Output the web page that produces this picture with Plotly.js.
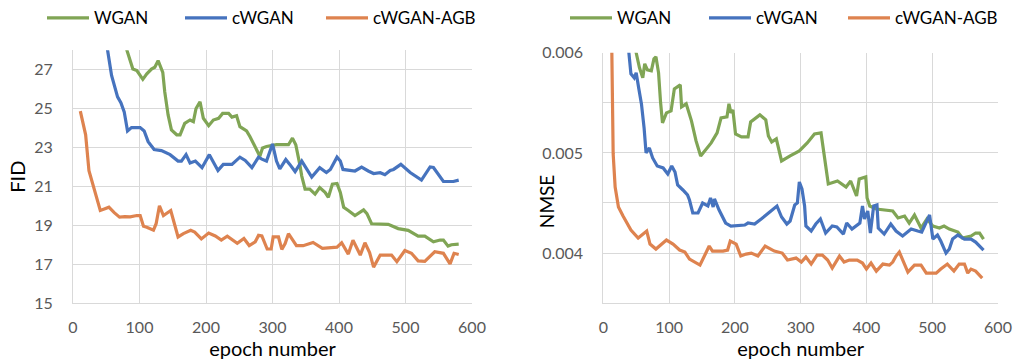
<!DOCTYPE html>
<html>
<head>
<meta charset="utf-8">
<script src="https://cdn.plot.ly/plotly-3.0.1.min.js"></script>
<style>
html,body{margin:0;padding:0;background:#fff;}
#chart{width:1015px;height:360px;}
</style>
</head>
<body>
<div id="chart"></div>
<script>
// ---------- series names ----------
var seriesNames = ['WGAN', 'cWGAN', 'cWGAN-AGB'];

// ---------- FID (left panel) ----------
var fidEpochWGAN = [70,81,90,96,105,111,118,123,128,135,138,143,148,156,161,168,176,181,185,191,196,204,211,219,225,234,239,246,251,261,266,274,281,285,291,306,324,330,335,341,344,349,356,364,371,379,384,390,397,402,407,414,424,437,442,449,462,474,489,504,519,529,542,552,557,564,569,580];
var fidWGAN = [30.5,28.0,27.03,26.95,26.5,26.78,27.03,27.12,27.46,26.86,25.85,24.67,23.9,23.65,23.65,24.24,24.41,24.33,25.0,25.34,24.5,24.12,24.41,24.5,24.75,24.75,24.56,24.63,24.07,23.85,23.56,23.0,22.55,22.97,23.05,23.14,23.14,23.48,23.14,22.13,21.53,20.86,20.86,20.6,20.94,20.69,20.44,21.11,21.15,20.69,19.93,19.76,19.5,19.79,19.6,19.08,19.05,19.05,18.83,18.74,18.44,18.44,18.15,18.24,18.24,17.93,18.0,18.03];

var fidEpochCWGAN = [40,52,58,67,72,77,82,88,101,107,113,122,133,146,158,163,170,176,184,194,205,218,226,239,251,259,269,279,284,291,300,306,311,320,326,334,344,349,359,371,381,387,397,402,406,424,434,444,452,462,469,477,482,493,507,524,537,542,557,572,580];
var fidCWGAN = [30.0,28.0,26.7,25.6,25.3,24.83,23.85,24.02,24.02,23.85,23.3,22.89,22.84,22.63,22.3,22.3,22.63,22.2,22.3,21.96,22.63,21.82,22.13,22.13,22.5,22.33,21.96,22.5,22.4,22.3,23.18,22.3,21.9,22.38,22.13,21.76,22.3,22.05,21.48,21.96,21.71,21.87,22.5,22.3,21.87,21.79,21.99,21.79,21.66,21.7,21.6,21.82,21.87,22.13,21.71,21.32,22.0,21.97,21.25,21.25,21.32];

var fidEpochAGB = [11,15,19,24,30,35,41,48,54,62,70,78,86,96,101,106,111,121,125,130,136,147,158,166,177,183,193,204,214,223,232,247,257,265,274,279,284,292,298,301,309,314,319,324,330,336,346,361,375,387,397,404,414,421,432,439,446,452,462,479,487,499,509,519,529,544,557,567,573,580];
var fidAGB = [24.87,24.16,23.65,21.8,21.1,20.4,19.76,19.85,19.93,19.65,19.42,19.45,19.43,19.5,19.5,18.95,18.9,18.75,19.08,20.0,19.5,19.76,18.4,18.57,18.74,18.65,18.3,18.6,18.45,18.24,18.44,18.08,18.32,17.96,18.15,18.48,18.45,17.78,17.78,18.4,18.4,17.76,18.06,18.57,18.24,17.95,17.95,18.12,17.82,17.86,17.88,18.1,17.52,18.23,17.47,18.1,17.6,16.85,17.47,17.47,17.13,17.7,17.56,17.17,17.15,17.64,17.56,17.02,17.56,17.5];

// ---------- NMSE (right panel) ----------
var nmseEpochWGAN = [40,50,55,60,63,67,73,77,80,84,87,90,96,103,108,117,119,126,134,141,148,156,164,173,179,188,191,194,197,201,210,220,224,238,247,251,256,263,271,284,298,310,321,331,336,342,356,369,376,385,389,399,401,405,415,427,440,448,458,465,473,483,492,501,511,518,526,539,546,559,566,572,578];
var nmseWGAN = [0.0066,0.00600,0.00585,0.00575,0.00589,0.00583,0.00582,0.00594,0.00596,0.00580,0.00551,0.00530,0.00540,0.00542,0.00564,0.00568,0.00546,0.00549,0.00532,0.00512,0.00497,0.00503,0.00510,0.00520,0.00535,0.00536,0.00549,0.00540,0.00543,0.00519,0.00516,0.00516,0.00531,0.00538,0.00533,0.00517,0.00511,0.00514,0.00492,0.00497,0.00502,0.00510,0.00519,0.00520,0.00494,0.00469,0.00472,0.00466,0.00472,0.00457,0.00474,0.00476,0.00455,0.00447,0.00444,0.00443,0.00442,0.00435,0.00437,0.00430,0.00438,0.00425,0.00434,0.00427,0.00425,0.00427,0.00424,0.00421,0.00415,0.00417,0.00420,0.00420,0.00414];

var nmseEpochCWGAN = [30,39,42,47,50,54,58,62,65,70,75,82,91,98,104,109,113,121,128,131,136,144,151,159,163,167,169,176,186,194,215,220,230,240,245,253,264,271,279,284,291,295,298,302,306,308,316,323,330,338,348,355,365,370,378,390,394,397,402,406,411,416,418,427,437,445,455,468,478,484,496,501,508,513,521,526,531,539,549,559,566,578];
var nmseCWGAN = [0.0066,0.00600,0.00579,0.00575,0.00580,0.00564,0.00549,0.00525,0.00500,0.00505,0.00495,0.00487,0.00485,0.00479,0.00487,0.00481,0.00468,0.00463,0.00458,0.00453,0.00440,0.00440,0.00450,0.00447,0.00455,0.00446,0.00454,0.00443,0.00430,0.00427,0.00428,0.00430,0.00429,0.00434,0.00437,0.00441,0.00447,0.00436,0.00429,0.00432,0.00448,0.00450,0.00471,0.00464,0.00447,0.00427,0.00422,0.00429,0.00434,0.00420,0.00427,0.00426,0.00419,0.00430,0.00424,0.00430,0.00447,0.00434,0.00442,0.00420,0.00447,0.00448,0.00425,0.00419,0.00429,0.00422,0.00417,0.00424,0.00422,0.00421,0.00438,0.00414,0.00418,0.00412,0.00400,0.00404,0.00414,0.00418,0.00414,0.00414,0.00411,0.00403];

var nmseEpochAGB = [10,13,15,18,23,30,42,53,66,71,80,96,106,116,124,131,147,161,166,182,189,193,202,209,217,225,235,246,260,272,280,293,301,308,316,325,333,341,348,359,366,374,386,394,400,407,415,425,435,440,445,450,458,463,473,483,491,506,513,523,533,541,549,554,559,566,576];
var nmseAGB = [0.0075,0.00558,0.00499,0.00466,0.00446,0.00437,0.00423,0.00415,0.00422,0.00409,0.00404,0.00413,0.00409,0.00403,0.00401,0.00394,0.00388,0.00407,0.00402,0.00402,0.00403,0.00412,0.00409,0.00397,0.00399,0.00400,0.00397,0.00407,0.00402,0.00400,0.00393,0.00395,0.00391,0.00396,0.00389,0.00398,0.00398,0.00393,0.00385,0.00397,0.00391,0.00393,0.00393,0.00390,0.00384,0.00390,0.00382,0.00389,0.00388,0.00391,0.00397,0.00401,0.00389,0.00381,0.00388,0.00388,0.00380,0.00380,0.00384,0.00389,0.00382,0.00389,0.00389,0.00380,0.00384,0.00382,0.00375];

// ---------- tick labels / titles ----------
var xTickVals = [0,100,200,300,400,500,600];
var fidTickVals = [15,17,19,21,23,25,27];
var nmseTickVals = [0.0035,0.004,0.0045,0.005,0.0055,0.006];
var nmseTickText = ['', '0.004', '', '0.005', '', '0.006'];
var xTitle = 'epoch number';
var fidTitle = 'FID';
var nmseTitle = 'NMSE';

// ---------- styling ----------
var colors = ['#80a555', '#4673be', '#de834f'];
var LW = 3.2;
var FONT = 'Lato, "Open Sans", sans-serif';
var grid = '#d9d9d9';
var W = 1015, H = 360;

function tr(x, y, i, xa, ya, leg) {
  return {x:x, y:y, name:seriesNames[i], type:'scatter', mode:'lines',
          line:{color:colors[i], width:LW},
          xaxis:xa, yaxis:ya, legend:leg, hoverinfo:'skip'};
}

var data = [
  tr(fidEpochWGAN, fidWGAN, 0, 'x', 'y', 'legend'),
  tr(fidEpochCWGAN, fidCWGAN, 1, 'x', 'y', 'legend2'),
  tr(fidEpochAGB, fidAGB, 2, 'x', 'y', 'legend3'),
  tr(nmseEpochWGAN, nmseWGAN, 0, 'x2', 'y2', 'legend4'),
  tr(nmseEpochCWGAN, nmseCWGAN, 1, 'x2', 'y2', 'legend5'),
  tr(nmseEpochAGB, nmseAGB, 2, 'x2', 'y2', 'legend6')
];

function xax(domain, anchor) {
  return {domain:domain, anchor:anchor, range:[0,600], tickvals:xTickVals,
          showgrid:true, gridcolor:grid, gridwidth:1, zeroline:false,
          showline:true, linecolor:grid, linewidth:1, ticks:'',
          ticklabelstandoff:10,
          tickfont:{family:FONT, size:16, color:'#595959'},
          title:{text:xTitle, font:{family:FONT, size:20, color:'#000'}, standoff:0}};
}

function leg(px) {
  return {orientation:'h', x:(px-5)/W, xanchor:'left', y:1-11.5/H, yanchor:'middle',
          font:{family:FONT, size:17, color:'#000'}, bgcolor:'rgba(0,0,0,0)',
          itemwidth:42};
}

var layout = {
  width:W, height:H,
  margin:{l:0, r:0, t:0, b:0},
  paper_bgcolor:'#fff', plot_bgcolor:'#fff',
  font:{family:FONT},
  xaxis: xax([73/W, 472/W], 'y'),
  xaxis2: xax([603.3/W, 998/W], 'y2'),
  yaxis:{domain:[1-302/H, 1-44/H], anchor:'x', range:[15,28], tickvals:fidTickVals,
         showgrid:true, gridcolor:grid, zeroline:false, showline:true, linecolor:grid, ticks:'',
         ticklabelstandoff:16,
         tickfont:{family:FONT, size:16, color:'#595959'},
         title:{text:fidTitle, font:{family:FONT, size:20, color:'#000'}, standoff:3}},
  yaxis2:{domain:[1-302/H, 1-46.7/H], anchor:'x2', range:[0.0035,0.006], tickvals:nmseTickVals, ticktext:nmseTickText,
         showgrid:true, gridcolor:grid, zeroline:false, showline:true, linecolor:grid, ticks:'',
         ticklabelstandoff:16,
         tickfont:{family:FONT, size:16, color:'#595959'}},
  annotations:[{text:nmseTitle, textangle:-90, xref:'paper', yref:'paper',
                x:546/W, y:1-199/H, xanchor:'center', yanchor:'middle', showarrow:false,
                font:{family:FONT, size:19, color:'#000'}}],
  legend: leg(47),
  legend2: leg(185),
  legend3: leg(326),
  legend4: leg(570),
  legend5: leg(709),
  legend6: leg(848),
  showlegend:true
};

Plotly.newPlot('chart', data, layout, {staticPlot:true, displayModeBar:false});
</script>
</body>
</html>
